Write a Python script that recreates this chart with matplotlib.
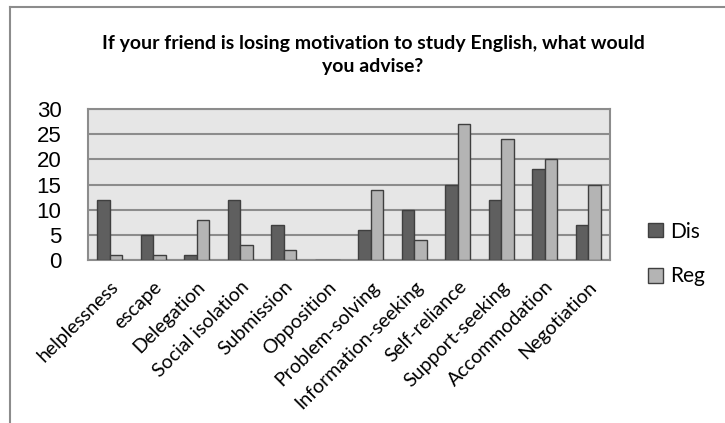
#!/usr/bin/env python3
"""Grouped bar chart: advice to a friend losing motivation (Dis vs Reg)."""

import matplotlib
matplotlib.use('Agg')
import matplotlib.pyplot as plt
import numpy as np
from matplotlib.lines import Line2D

categories = ['helplessness', 'escape', 'Delegation', 'Social isolation',
              'Submission', 'Opposition', 'Problem-solving',
              'Information-seeking', 'Self-reliance', 'Support-seeking',
              'Accommodation', 'Negotiation']
dis_values = [12, 5, 1, 12, 7, 0, 6, 10, 15, 12, 18, 7]
reg_values = [1, 1, 8, 3, 2, 0, 14, 4, 27, 24, 20, 15]
series_names = ['Dis', 'Reg']
y_ticks = [0, 5, 10, 15, 20, 25, 30]

title = ('If your friend is losing motivation to study English, what would\n'
         'you advise?')

CAL = ['Lato', 'DejaVu Sans']
ARIAL = ['Liberation Sans', 'DejaVu Sans']
C_DIS = '#5f5f5f'
C_REG = '#b4b4b4'
C_EDGE = '#3f3f3f'
C_GRID = '#8c8c8c'

W, H = 725, 423
fig = plt.figure(figsize=(W / 100, H / 100), dpi=100)
ax = fig.add_axes([88 / W, 1 - 260 / H, 522 / W, 151 / H])

x = np.arange(len(categories))
bw = 0.29
ax.bar(x - bw / 2, dis_values, bw, color=C_DIS, edgecolor=C_EDGE,
       linewidth=1.0, label=series_names[0], zorder=3)
ax.bar(x + bw / 2, reg_values, bw, color=C_REG, edgecolor=C_EDGE,
       linewidth=1.0, label=series_names[1], zorder=3)

ax.set_xlim(-0.5, len(categories) - 0.5)
ax.set_ylim(0, 30)
ax.set_facecolor('#e6e6e6')
ax.set_yticks(y_ticks)
ax.yaxis.grid(True, color=C_GRID, linewidth=1.5, zorder=1)
ax.set_axisbelow(True)
for s in ax.spines.values():
    s.set_color(C_GRID)
    s.set_linewidth(1.5)
ax.tick_params(length=0)
ax.tick_params(axis='y', pad=19)
for lab in ax.get_yticklabels():
    lab.set_fontfamily(ARIAL)
    lab.set_fontsize(16)

ax.set_xticks(x)
ax.set_xticklabels(categories, rotation=45, ha='right', rotation_mode='anchor',
                   fontsize=14, family=CAL)
ax.tick_params(axis='x', pad=13)

fig.text(373 / W, 1 - 55 / H, title, ha='center', va='center',
         fontsize=14, fontweight='bold', family=CAL, linespacing=1.4)

# legend
fig.legend(loc='center left', bbox_to_anchor=(648 / W, 1 - 254 / H),
           frameon=False, prop={'family': CAL, 'size': 15},
           handlelength=0.7, handleheight=0.7, handletextpad=0.35,
           labelspacing=1.2, borderpad=0, borderaxespad=0)

# outer chart frame (clipped on right and bottom)
fig.add_artist(Line2D([10 / W, 10 / W], [0, 1 - 7 / H], color='#8c8c8c',
                      linewidth=1.5, transform=fig.transFigure))
fig.add_artist(Line2D([10 / W, 1], [1 - 7 / H, 1 - 7 / H], color='#8c8c8c',
                      linewidth=1.5, transform=fig.transFigure))

fig.savefig('out.png', dpi=100, facecolor='white')
